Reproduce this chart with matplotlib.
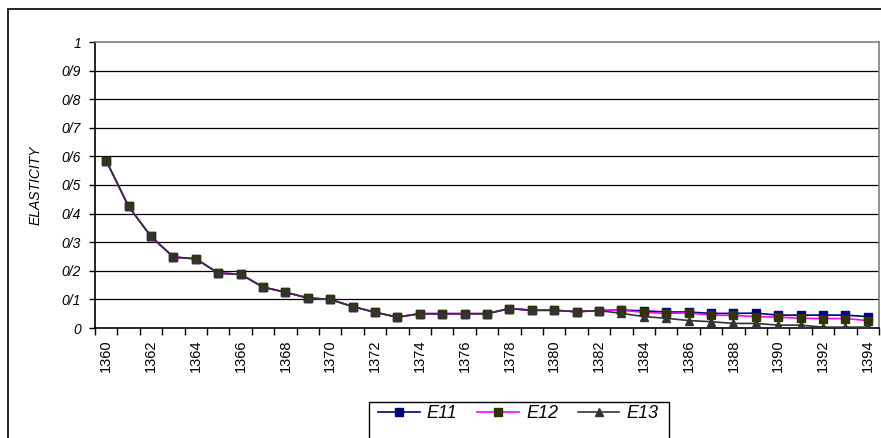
import numpy as np
import matplotlib.pyplot as plt
from matplotlib.patches import Rectangle

plt.rcParams['font.family'] = ['Liberation Sans', 'DejaVu Sans']

###DATA
years = list(range(1360, 1395))

common = [0.585, 0.425, 0.32, 0.248, 0.242, 0.192, 0.188, 0.143, 0.125, 0.105,
          0.10, 0.075, 0.055, 0.038, 0.05, 0.05, 0.05, 0.05, 0.068, 0.062,
          0.062, 0.057, 0.061]
e11 = common + [0.063, 0.060, 0.056, 0.056, 0.051, 0.051, 0.052, 0.045, 0.045, 0.045, 0.045, 0.040]
e12 = common + [0.062, 0.055, 0.051, 0.053, 0.045, 0.044, 0.040, 0.038, 0.034, 0.033, 0.033, 0.026]
e13 = common + [0.051, 0.040, 0.034, 0.026, 0.022, 0.016, 0.016, 0.010, 0.010, 0.003, 0.003, 0.003]

ytick_vals = [0, 0.1, 0.2, 0.3, 0.4, 0.5, 0.6, 0.7, 0.8, 0.9, 1.0]
ytick_labels = ['0', '0/1', '0/2', '0/3', '0/4', '0/5', '0/6', '0/7', '0/8', '0/9', '1']

###PLOT
W, H = 881, 438
fig = plt.figure(figsize=(W / 100, H / 100), dpi=100)
ax = fig.add_axes([95 / W, (H - 328) / H, (879 - 95) / W, (328 - 42) / H])

x = np.arange(len(years))
l1, = ax.plot(x, e11, color='#000080', lw=1.2, marker='s', ms=5.5,
              mfc='#000080', mec='#000080', label='E11', zorder=3)
l2, = ax.plot(x, e12, color='#FF00FF', lw=1.2, marker='s', ms=5.5,
              mfc='#333300', mec='#333300', label='E12', zorder=4)
l3, = ax.plot(x, e13, color='#333333', lw=1.2, marker='^', ms=5.5,
              mfc='#333333', mec='#333333', label='E13', zorder=5)

ax.set_xlim(-0.5, len(years) - 0.5)
ax.set_ylim(0, 1)

# y axis
ax.set_yticks(ytick_vals)
ax.set_yticklabels(ytick_labels, fontsize=10, style='italic')
ax.tick_params(axis='y', direction='out', length=4, width=1, pad=6)
for v in ytick_vals[1:-1]:
    ax.axhline(v, color='black', lw=0.9, zorder=1)

# x axis: labels every 2 years, ticks between categories
ax.set_xticks(x[::2])
ax.set_xticklabels([str(y) for y in years[::2]], rotation=90, fontsize=10.5)
ax.set_xticks(np.arange(-0.5, len(years), 1), minor=True)
ax.tick_params(axis='x', which='major', length=0, pad=8)
ax.tick_params(axis='x', which='minor', direction='out', length=5, width=1)

ax.spines['left'].set_color('black')
ax.spines['bottom'].set_color('black')
ax.spines['top'].set_color('#808080')
ax.spines['right'].set_color('#808080')
for s in ax.spines.values():
    s.set_linewidth(1.2)

ax.set_ylabel('ELASTICITY', fontsize=10, style='italic', labelpad=14)

# outer chart border (cut at right/bottom)
fig.patches.append(Rectangle((8 / W, -0.2), 1.2, 1 - 9 / H + 0.2,
                             transform=fig.transFigure, fill=False,
                             edgecolor='black', lw=1.2))

# legend box (cut at bottom)
fig.patches.append(Rectangle((369 / W, -0.2), (669 - 369) / W, 1 - 402 / H + 0.2,
                             transform=fig.transFigure, fill=False,
                             edgecolor='black', lw=1))
fig.legend(handles=[l1, l2, l3], loc='center left',
           bbox_to_anchor=(378 / W, 1 - 414 / H), ncol=3, frameon=False,
           prop={'size': 13, 'style': 'italic'}, handlelength=2.3,
           handletextpad=0.4, columnspacing=1.1, borderpad=0, borderaxespad=0)

fig.savefig('out.png', dpi=100)
